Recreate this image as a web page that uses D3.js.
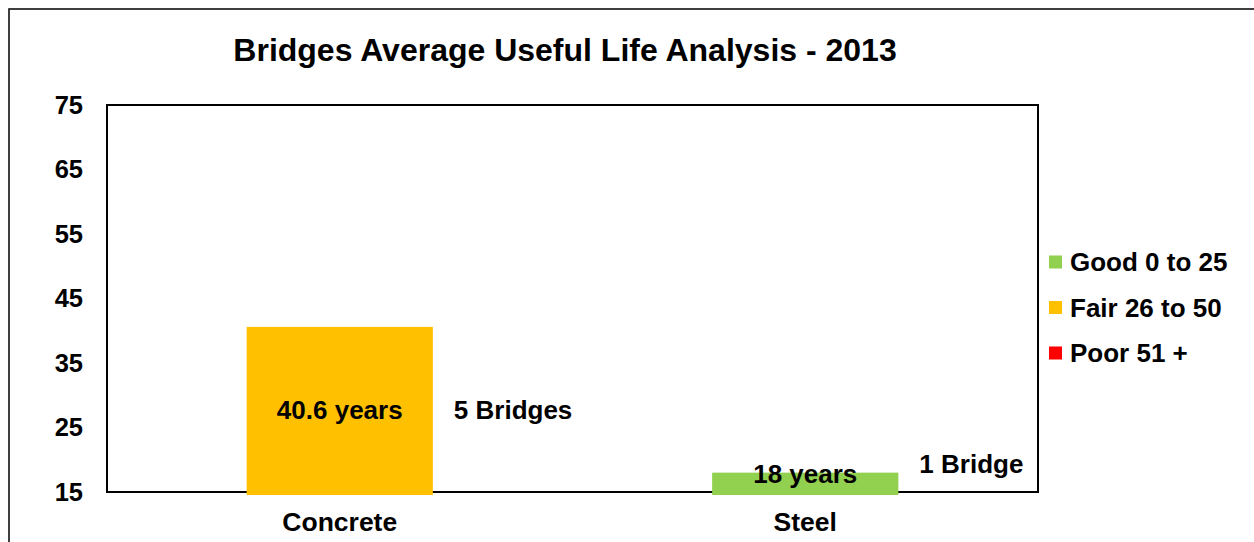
<!DOCTYPE html>
<html>
<head>
<meta charset="utf-8">
<script src="https://cdn.jsdelivr.net/npm/d3@7"></script>
<style>
  html, body { margin: 0; padding: 0; background: #fff; }
  svg { display: block; font-family: "Liberation Sans", Arial, sans-serif; font-weight: bold; }
</style>
</head>
<body>
<svg id="chart" width="1254" height="542"></svg>
<script>
// ---- data ----
const categories = ["Concrete", "Steel"];
const avgLife = [40.6, 18];
const valueLabels = ["40.6 years", "18 years"];
const bridgeLabels = ["5 Bridges", "1 Bridge"];
const barConditions = ["Fair 26 to 50", "Good 0 to 25"];
const legendItems = ["Good 0 to 25", "Fair 26 to 50", "Poor 51 +"];
const legendColors = ["#92D050", "#FFC000", "#FF0000"];
const yTicks = [15, 25, 35, 45, 55, 65, 75];
const titleText = "Bridges Average Useful Life Analysis - 2013";

// ---- layout ----
const svg = d3.select("#chart");
const plot = { left: 107, top: 105, right: 1038, bottom: 492 };

const color = d3.scaleOrdinal().domain(legendItems).range(legendColors);

const y = d3.scaleLinear().domain([15, 75]).range([plot.bottom, plot.top]);
const x = d3.scaleBand().domain(categories)
  .range([plot.left, plot.right])
  .paddingInner(0.6).paddingOuter(0.3);

// outer chart border (only left & top visible)
svg.append("rect")
  .attr("x", 9).attr("y", 9).attr("width", 1300).attr("height", 600)
  .attr("fill", "none").attr("stroke", "#111").attr("stroke-width", 1.6);

// title
svg.append("text")
  .attr("x", 565).attr("y", 61)
  .attr("text-anchor", "middle")
  .style("font-size", "32px")
  .text(titleText);

// plot area border
svg.append("rect")
  .attr("x", plot.left).attr("y", plot.top)
  .attr("width", plot.right - plot.left).attr("height", plot.bottom - plot.top)
  .attr("fill", "none").attr("stroke", "#000").attr("stroke-width", 2);

// y axis
const yAxis = svg.append("g")
  .attr("transform", `translate(${plot.left},0)`)
  .call(d3.axisLeft(y).tickValues(yTicks).tickSize(0).tickPadding(24));
yAxis.select(".domain").remove();
yAxis.selectAll("text")
  .style("font-size", "25.5px").style("font-family", "'Liberation Sans', Arial, sans-serif")
  .style("font-weight", "bold").attr("fill", "#000");

// x axis labels
const xAxis = svg.append("g")
  .attr("transform", `translate(0,${plot.bottom})`)
  .call(d3.axisBottom(x).tickSize(0).tickPadding(20));
xAxis.select(".domain").remove();
xAxis.selectAll("text")
  .style("font-size", "26.5px").style("font-family", "'Liberation Sans', Arial, sans-serif")
  .style("font-weight", "bold").attr("fill", "#000");

// bars
const bw = x.bandwidth();
svg.selectAll("rect.bar").data(categories).enter().append("rect")
  .attr("class", "bar")
  .attr("x", d => x(d))
  .attr("y", (d, i) => y(avgLife[i]))
  .attr("width", bw)
  .attr("height", (d, i) => y(15) - y(avgLife[i]) + 3)
  .attr("fill", (d, i) => color(barConditions[i]));

// value labels (centered in bar, kept inside plot)
svg.selectAll("text.vlab").data(categories).enter().append("text")
  .attr("class", "vlab")
  .attr("x", d => x(d) + bw / 2)
  .attr("y", (d, i) => Math.min((y(avgLife[i]) + y(15)) / 2, plot.bottom - 18))
  .attr("dy", "0.35em")
  .attr("text-anchor", "middle")
  .style("font-size", "26px")
  .text((d, i) => valueLabels[i]);

// bridge count labels
svg.selectAll("text.blab").data(categories).enter().append("text")
  .attr("class", "blab")
  .attr("x", d => x(d) + bw + 21)
  .attr("y", (d, i) => Math.min((y(avgLife[i]) + y(15)) / 2, plot.bottom - 28))
  .attr("dy", "0.35em")
  .style("font-size", "26px")
  .text((d, i) => bridgeLabels[i]);

// legend
const lg = svg.append("g").attr("transform", "translate(1049,262)");
const li = lg.selectAll("g").data(legendItems).enter().append("g")
  .attr("transform", (d, i) => `translate(0,${i * 45.5})`);
li.append("rect").attr("x", 0).attr("y", -6.5).attr("width", 13).attr("height", 13)
  .attr("fill", d => color(d));
li.append("text").attr("x", 21).attr("y", 0).attr("dy", "0.35em")
  .style("font-size", "26px").text(d => d);
</script>
</body>
</html>
